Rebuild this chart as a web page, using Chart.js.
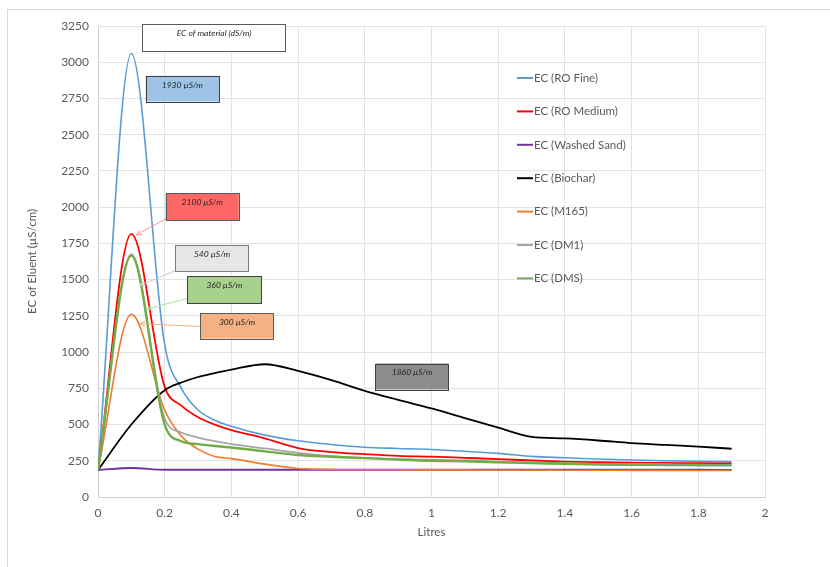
<!DOCTYPE html>
<html>
<head>
<meta charset="utf-8">
<script src="https://cdn.jsdelivr.net/npm/chart.js@4"></script>
<style>
  html, body { margin: 0; padding: 0; background: #fff; }
  #wrap { width: 830px; height: 567px; }
</style>
</head>
<body>
<div id="wrap"><canvas id="ecChart" width="830" height="567"></canvas></div>
<script>
// litres of eluent collected
const litres = [0, 0.1, 0.2, 0.25, 0.3, 0.35, 0.4, 0.5, 0.6, 0.7, 0.8, 0.9, 1.0, 1.1, 1.2, 1.3, 1.4, 1.5, 1.6, 1.7, 1.8, 1.9];

const roFine      = [186, 3060, 1050, 750, 600, 530, 488, 427, 388, 362, 343, 335, 328, 316, 301, 280, 271, 262, 255, 250, 246, 243];
const roMedium    = [186, 1815, 760, 630, 550, 500, 462, 405, 338, 310, 296, 284, 278, 270, 262, 252, 244, 240, 237, 235, 233, 232];
const washedSand  = [186, 200, 188, 188, 188, 188, 188, 188, 188, 188, 188, 188, 188, 188, 188, 188, 188, 188, 188, 188, 188, 187];
const biochar     = [186, 500, 737, 790, 828, 855, 879, 916, 870, 806, 732, 670, 611, 545, 478, 415, 404, 390, 372, 360, 348, 333];
const m165        = [186, 1260, 600, 420, 330, 280, 265, 227, 197, 190, 188, 188, 187, 187, 186, 186, 185, 185, 184, 184, 183, 183];
const dm1         = [186, 1675, 540, 445, 410, 385, 365, 335, 305, 282, 270, 262, 256, 252, 244, 238, 233, 229, 227, 225, 223, 221];
const dms         = [186, 1666, 500, 385, 365, 352, 342, 315, 290, 278, 268, 258, 250, 247, 239, 234, 229, 224, 222, 221, 219, 218];

const seriesNames = ["EC (RO Fine)", "EC (RO Medium)", "EC (Washed Sand)", "EC (Biochar)", "EC (M165)", "EC (DM1)", "EC (DMS)"];
const seriesValues = [roFine, roMedium, washedSand, biochar, m165, dm1, dms];
const seriesColors = ["#5B9BD5", "#FF0000", "#7030A0", "#000000", "#ED7D31", "#A5A5A5", "#70AD47"];
const seriesWidths = [1.6, 1.8, 1.8, 1.8, 1.6, 1.8, 2.4];

const yTicks = [0, 250, 500, 750, 1000, 1250, 1500, 1750, 2000, 2250, 2500, 2750, 3000, 3250];
const xTicks = [0, 0.2, 0.4, 0.6, 0.8, 1, 1.2, 1.4, 1.6, 1.8, 2];

// text boxes placed in axis units (x in litres, y in µS/cm)
const notes = [
    { text: "EC of material (dS/m)", x0: 0.133, x1: 0.563, y0: 3262, y1: 3078, fill: "#ffffff", border: "#595959" },
    { text: "1930 µS/m", x0: 0.143, x1: 0.363, y0: 2906, y1: 2729, fill: "#9DC3E6", border: "#404040" },
    { text: "2100 µS/m", x0: 0.203, x1: 0.422, y0: 2095, y1: 1907, fill: "#FF6666", border: "#595959",
      arrow: { from: [0.205, 1921], to: [0.115, 1809], color: "#FF9999" } },
    { text: "540 µS/m", x0: 0.232, x1: 0.452, y0: 1740, y1: 1558, fill: "#E7E6E6", border: "#7f7f7f",
      arrow: { from: [0.233, 1563], to: [0.125, 1460], color: "#C8C8C8" } },
    { text: "360 µS/m", x0: 0.268, x1: 0.490, y0: 1522, y1: 1338, fill: "#A9D18E", border: "#404040",
      arrow: { from: [0.269, 1370], to: [0.146, 1297], color: "#B5DBA0" } },
    { text: "300 µS/m", x0: 0.307, x1: 0.527, y0: 1269, y1: 1093, fill: "#F4B183", border: "#595959",
      arrow: { from: [0.307, 1177], to: [0.125, 1196], color: "#F4B183" } },
    { text: "1860 µS/m", x0: 0.832, x1: 1.052, y0: 921, y1: 742, fill: "#8C8C8C", border: "#404040" }
];

const datasets = seriesNames.map(function (name, i) {
    return {
        label: name,
        data: litres.map(function (l, j) { return { x: l, y: seriesValues[i][j] }; }),
        borderColor: seriesColors[i],
        backgroundColor: seriesColors[i],
        borderWidth: seriesWidths[i],
        pointRadius: 0,
        cubicInterpolationMode: "monotone",
        fill: false,
        order: seriesNames.length - i
    };
});

const frameAndNotes = {
    id: "frameAndNotes",
    beforeDraw: function (chart) {
        const ctx = chart.ctx;
        ctx.save();
        ctx.fillStyle = "#ffffff";
        ctx.fillRect(0, 0, chart.width, chart.height);
        ctx.strokeStyle = "#d9d9d9";
        ctx.lineWidth = 1;
        ctx.strokeRect(7.5, 9.5, chart.width, chart.height);
        ctx.restore();
    },
    afterDatasetsDraw: function (chart) {
        const ctx = chart.ctx;
        const xs = chart.scales.x, ys = chart.scales.y;
        ctx.save();
        notes.forEach(function (n) {
            if (n.arrow) {
                const fx = xs.getPixelForValue(n.arrow.from[0]), fy = ys.getPixelForValue(n.arrow.from[1]);
                const tx = xs.getPixelForValue(n.arrow.to[0]), ty = ys.getPixelForValue(n.arrow.to[1]);
                ctx.strokeStyle = n.arrow.color;
                ctx.lineWidth = 1;
                ctx.beginPath();
                ctx.moveTo(fx, fy);
                ctx.lineTo(tx, ty);
                const a = Math.atan2(ty - fy, tx - fx);
                ctx.moveTo(tx - 6 * Math.cos(a - 0.45), ty - 6 * Math.sin(a - 0.45));
                ctx.lineTo(tx, ty);
                ctx.lineTo(tx - 6 * Math.cos(a + 0.45), ty - 6 * Math.sin(a + 0.45));
                ctx.stroke();
            }
            const left = xs.getPixelForValue(n.x0), right = xs.getPixelForValue(n.x1);
            const top = ys.getPixelForValue(n.y0), bottom = ys.getPixelForValue(n.y1);
            ctx.fillStyle = n.fill;
            ctx.fillRect(left, top, right - left, bottom - top);
            ctx.strokeStyle = n.border;
            ctx.lineWidth = 1;
            ctx.strokeRect(Math.round(left) + 0.5, Math.round(top) + 0.5, Math.round(right - left), Math.round(bottom - top));
            ctx.fillStyle = "#262626";
            ctx.font = "italic 8.5px Lato, 'Liberation Sans', sans-serif";
            ctx.textAlign = "center";
            ctx.textBaseline = "middle";
            ctx.fillText(n.text, (left + right) / 2, top + 9);
        });
        ctx.restore();
    },
    afterDraw: function (chart) {
        // legend on the right, inside the plot
        const ctx = chart.ctx;
        ctx.save();
        ctx.font = "11.5px Lato, 'Open Sans', sans-serif";
        ctx.textAlign = "left";
        ctx.textBaseline = "middle";
        seriesNames.forEach(function (name, i) {
            const y = 78 + i * 33.4;
            ctx.strokeStyle = seriesColors[i];
            ctx.lineWidth = 2;
            ctx.beginPath();
            ctx.moveTo(517, y);
            ctx.lineTo(533, y);
            ctx.stroke();
            ctx.fillStyle = "#595959";
            ctx.fillText(name, 534, y);
        });
        ctx.restore();
    }
};

Chart.defaults.font.family = "Lato, 'Open Sans', sans-serif";
Chart.defaults.color = "#595959";

new Chart(document.getElementById("ecChart").getContext("2d"), {
    type: "line",
    data: { datasets: datasets },
    plugins: [frameAndNotes],
    options: {
        responsive: false,
        animation: false,
        layout: { padding: { top: 26, right: 65, left: 0, bottom: 0 } },
        scales: {
            x: {
                type: "linear",
                min: 0,
                max: 2,
                afterBuildTicks: function (scale) {
                    scale.ticks = xTicks.map(function (v) { return { value: v }; });
                },
                afterFit: function (scale) { scale.height = 70; },
                grid: { color: "#e3e3e3", drawTicks: false },
                border: { color: "#d0d0d0" },
                ticks: {
                    padding: 9,
                    font: { size: 12 },
                    callback: function (v) { return String(Math.round(v * 10) / 10); }
                },
                title: { display: true, text: "Litres", font: { size: 11.5 }, padding: { top: 0, bottom: 28 } }
            },
            y: {
                min: 0,
                max: 3250,
                afterBuildTicks: function (scale) {
                    scale.ticks = yTicks.map(function (v) { return { value: v }; });
                },
                afterFit: function (scale) { scale.width = 98; },
                grid: { color: "#e3e3e3", drawTicks: false },
                border: { color: "#d0d0d0" },
                ticks: {
                    padding: 9,
                    font: { size: 12 },
                    callback: function (v) { return String(v); }
                },
                title: { display: true, text: "EC of Eluent (µS/cm)", font: { size: 11.5 }, padding: { top: 25, bottom: 0 } }
            }
        },
        plugins: {
            legend: { display: false },
            tooltip: { enabled: false }
        }
    }
});
</script>
</body>
</html>
